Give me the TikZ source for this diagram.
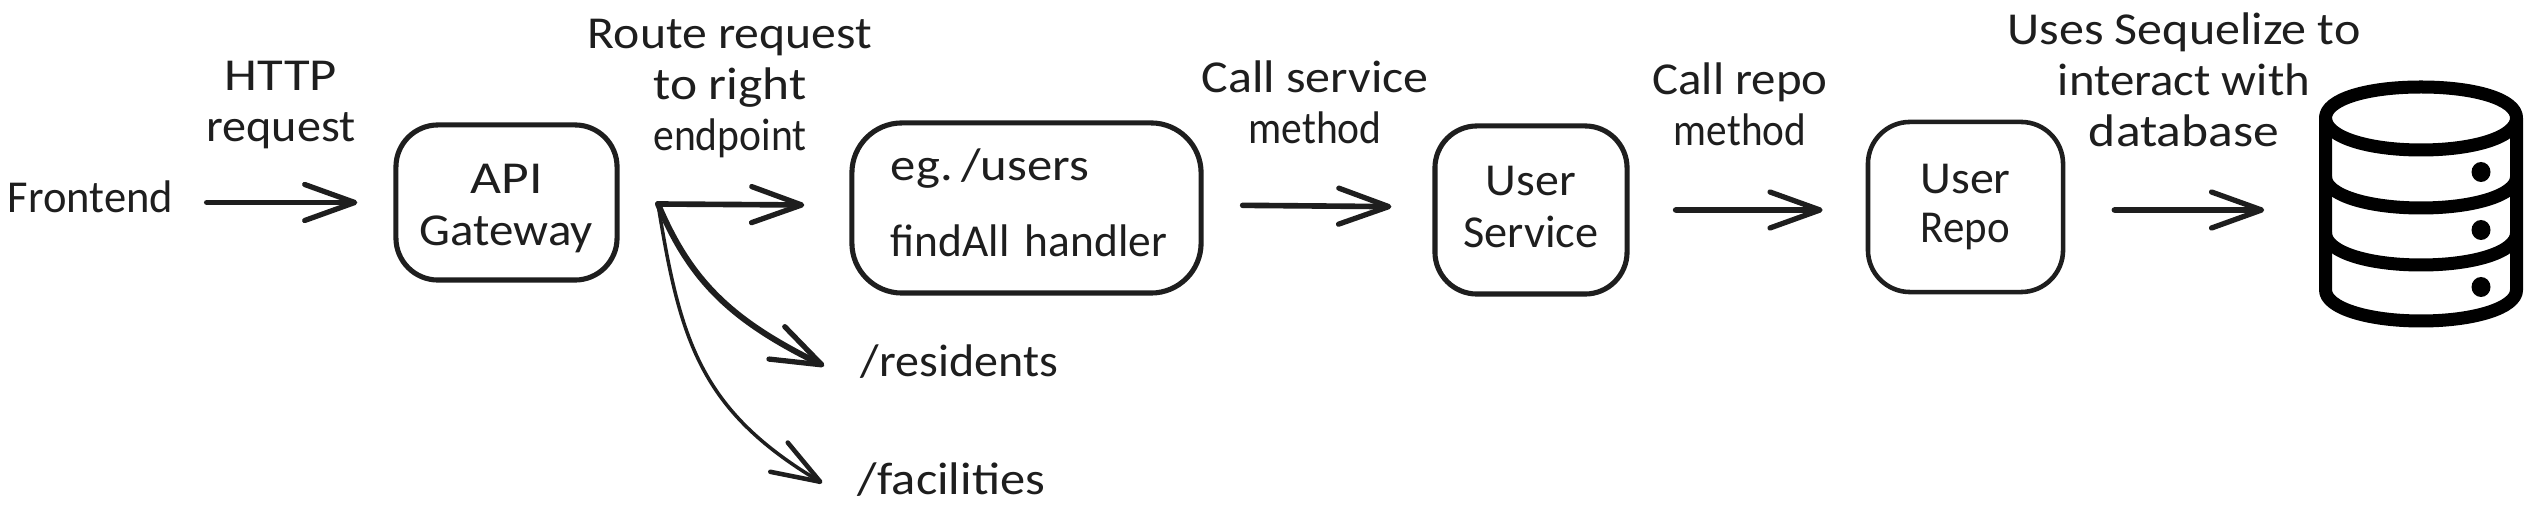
\documentclass[tikz,border=0pt]{standalone}
\usepackage{fontspec}
\usepackage{graphicx}
\setmainfont{Carlito}
\usetikzlibrary{arrows.meta}
\definecolor{ink}{HTML}{1E1E1E}
\newcommand{\fw}[2]{\resizebox{#1cm}{\height}{#2}}
\tikzset{
  x=0.01cm,y=-0.01cm,
  lbl/.style={inner sep=0pt,text=ink,align=center,font=\fontsize{13}{14.5}\selectfont},
  sbox/.style={draw=ink,line width=1.45pt,rounded corners=0.42cm,inner sep=0pt,align=center,text=ink,
    font=\fontsize{13}{14.8}\selectfont},
  conn/.style={draw=ink,line width=1.6pt,line cap=round,line join=round,-{Straight Barb[length=0.5cm,width=0.36cm,line width=1.5pt,round]}},
  thinconn/.style={conn,line width=1.0pt,-{Straight Barb[length=0.48cm,width=0.34cm,line width=1.3pt,round]}},
  dbline/.style={draw=black,line width=0.13cm,line cap=round,line join=round}
}
\begin{document}
\begin{tikzpicture}
\useasboundingbox[fill=white] (0,0) rectangle (2530,507);
% labels
\node[lbl] (frontend) at (90.5,197) {\fw{1.65}{Frontend}};
\node[lbl] (http) at (281,105) {\fw{1.12}{HTTP}\\\fw{1.49}{request}};
\node[lbl] (routetxt) at (730,89) {\fw{2.84}{Route request}\\\fw{1.53}{to right}\\\fw{1.53}{endpoint}};
\node[lbl] (calls) at (1315,102) {\fw{2.27}{Call service}\\\fw{1.33}{method}};
\node[lbl] (callr) at (1740,104) {\fw{1.75}{Call repo}\\\fw{1.32}{method}};
\node[lbl] (uses) at (2184,80) {\fw{3.53}{Uses Sequelize to}\\\fw{2.52}{interact with}\\\fw{1.90}{database}};
\node[lbl] (residents) at (959.5,362) {\fw{1.97}{/residents}};
\node[lbl] (facilities) at (951.5,480) {\fw{1.87}{/facilities}};
% boxes
\node[sbox,minimum width=2.21cm,minimum height=1.55cm] (api) at (506.5,202.5) {\rule{0pt}{0.42cm}\fw{0.72}{API}\\\fw{1.73}{Gateway}};
\node[sbox,minimum height=1.70cm,text width=2.71cm,inner xsep=0.39cm,align=left,rounded corners=0.5cm] (handler) at (1026.5,208) {\fw{1.98}{eg.\,/users}\\[0.24cm]\fw{2.76}{findAll handler}\rule[-0.1cm]{0pt}{0pt}};
\node[sbox,minimum width=1.92cm,minimum height=1.68cm] (svc) at (1531,210) {\fw{0.90}{User}\\\fw{1.35}{Service}\rule[-0.06cm]{0pt}{0pt}};
\node[sbox,minimum width=1.95cm,minimum height=1.70cm,line width=1.3pt] (repo) at (1965.5,207) {\fw{0.90}{User}\\[-0.03cm]\fw{0.89}{Repo}};
% database
\node[minimum width=2.04cm,minimum height=2.48cm,inner sep=0pt] (db) at (2421,204) {};
\draw[dbline] (2325.5,118) .. controls (2325.5,99) and (2368,87) .. (2421,87)
   .. controls (2474,87) and (2516.5,99) .. (2516.5,118)
   .. controls (2516.5,137) and (2474,150) .. (2421,150)
   .. controls (2368,150) and (2325.5,137) .. (2325.5,118) -- cycle;
\draw[dbline] (2325.5,118) -- (2325.5,290) .. controls (2325.5,308) and (2368,321) .. (2421,321)
   .. controls (2474,321) and (2516.5,308) .. (2516.5,290) -- (2516.5,118);
\draw[dbline] (2325.5,177) .. controls (2325.5,195) and (2368,208) .. (2421,208)
   .. controls (2474,208) and (2516.5,195) .. (2516.5,177);
\draw[dbline] (2325.5,233) .. controls (2325.5,252) and (2368,265) .. (2421,265)
   .. controls (2474,265) and (2516.5,252) .. (2516.5,233);
\fill[black] (2481,172) ellipse (9.5 and 10);
\fill[black] (2481,230) ellipse (9.5 and 10);
\fill[black] (2481,287) ellipse (9.5 and 10);
% connectors
\coordinate (fork) at (658,204);
\draw[conn,shorten <=0.33cm,shorten >=0.36cm] (frontend.east |- api.west) -- (api.west);
\draw[conn] (fork) -- ([xshift=-0.45cm,yshift=0.03cm]handler.west);
\draw[conn,line width=1.7pt] (fork) .. controls (690,280) and (730,320) .. ([xshift=-0.36cm,yshift=-0.04cm]residents.west);
\draw[thinconn] (fork) .. controls (680,340) and (700,410) .. ([xshift=-0.35cm,yshift=-0.03cm]facilities.west);
\draw[conn,shorten <=0.39cm,shorten >=0.41cm] ([yshift=0.03cm]handler.east) -- ([yshift=0.03cm]svc.west);
\draw[conn,shorten <=0.46cm,shorten >=0.43cm] (svc.east) -- ([yshift=-0.03cm]repo.west);
\draw[conn,shorten <=0.49cm,shorten >=0.54cm] ([yshift=-0.03cm]repo.east) -- ([yshift=-0.06cm]db.west);
\end{tikzpicture}
\end{document}
